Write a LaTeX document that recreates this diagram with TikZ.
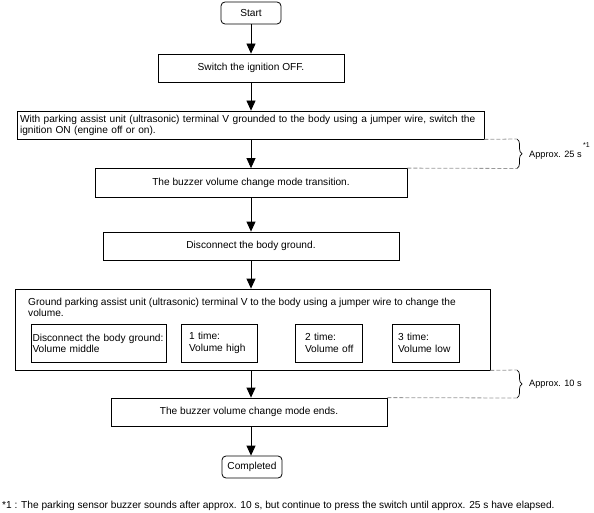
\documentclass[tikz,border=0pt]{standalone}
\usepackage{fontspec}
\setmainfont{Liberation Sans}
\usetikzlibrary{arrows.meta,decorations.pathreplacing}
\begin{document}
\begin{tikzpicture}[x=1pt,y=-1pt,
  font=\fontsize{10.15}{11}\selectfont,
  box/.style={draw=black,line width=0.8pt,rectangle,inner sep=2pt},
  term/.style={box,rounded corners=4pt},
  flow/.style={line width=0.8pt,-{Triangle[length=10pt,width=9pt]}},
  dashln/.style={draw=gray!80,line width=0.8pt,dash pattern=on 4pt off 2pt},
  brc/.style={line width=0.7pt,decorate,decoration={brace,amplitude=5pt}},
  lbl/.style={anchor=west,inner sep=0pt,font=\fontsize{9.2}{11}\selectfont}]
\useasboundingbox (0,0) rectangle (594,513);

\node[term,minimum width=60pt,minimum height=22pt] (start) at (251,13) {Start};
\node[box,minimum width=186pt,minimum height=28pt] (sw) at (251,68) {Switch the ignition OFF.};
\node[box,text width=461pt,inner xsep=3pt,minimum height=28pt,align=left] (b3) at (250.5,125)
  {\mbox{With parking assist unit (ultrasonic) terminal V grounded to the body using a jumper wire, switch the}\\ignition ON (engine off or on).};
\node[box,minimum width=312pt,minimum height=29pt] (b4) at (251,183) {The buzzer volume change mode transition.};
\node[box,minimum width=296pt,minimum height=28pt] (dis) at (251,246) {Disconnect the body ground.};
\node[box,minimum width=475pt,minimum height=81pt] (big) at (252.5,329.5) {};
\node[anchor=north west,inner sep=0pt,align=left] (bigt) at (28,297.5)
  {Ground parking assist unit (ultrasonic) terminal V to the body using a jumper wire to change the\\volume.};
\node[box,text width=132pt,inner xsep=1.5pt,minimum height=38pt,align=left] (i1) at (98.5,343)
  {\mbox{Disconnect the body ground:}\\Volume middle};
\node[box,text width=60pt,inner xsep=8pt,minimum height=38pt,align=left,font=\fontsize{10.15}{12}\selectfont] (i2) at (219,343)
  {1 time:\\\mbox{Volume high}};
\node[box,text width=47pt,inner xsep=10pt,minimum height=38pt,align=left,font=\fontsize{10.15}{12}\selectfont] (i3) at (328.5,343)
  {2 time:\\\mbox{Volume off}};
\node[box,text width=55pt,inner xsep=6pt,minimum height=38pt,align=left,font=\fontsize{10.15}{12}\selectfont] (i4) at (425.5,343)
  {3 time:\\\mbox{Volume low}};
\node[box,minimum width=276pt,minimum height=28pt] (end) at (249,412) {The buzzer volume change mode ends.};
\node[term,minimum width=60pt,minimum height=22pt] (comp) at (252,467) {Completed};

\draw[flow] (start) -- (sw);
\draw[flow] (sw.south) -- (sw.south |- b3.north);
\draw[flow] (sw.south |- b3.south) -- (sw.south |- b4.north);
\draw[flow] (b4.south) -- (dis.north);
\draw[flow] (dis.south) -- (dis.south |- big.north);
\draw[flow] (dis.south |- big.south) -- (dis.south |- end.north);
\draw[flow] (dis.south |- end.south) -- (dis.south |- comp.north);

% timing braces
\coordinate (t1a) at (517,139);
\coordinate (t1b) at (517,168.5);
\draw[dashln] (b3.south east) -- (t1a);
\draw[dashln] (b4.north east) -- (t1b);
\draw[brc] (t1a) -- (t1b);
\node[lbl] (ap25) at (529,155) {Approx. 25 s};
\node[anchor=west,inner sep=0pt,font=\fontsize{7}{8}\selectfont] (fn1) at (583,145) {*1};

\coordinate (t2a) at (517,370);
\coordinate (t2b) at (517,398);
\draw[dashln] (big.south east) -- (t2a);
\draw[dashln] (end.north east) -- (t2b);
\draw[brc] (t2a) -- (t2b);
\node[lbl] (ap10) at (529,384) {Approx. 10 s};

\node[anchor=west,inner sep=0pt] (foot) at (2,506)
  {*1 : The parking sensor buzzer sounds after approx. 10 s, but continue to press the switch until approx. 25 s have elapsed.};
\end{tikzpicture}
\end{document}
